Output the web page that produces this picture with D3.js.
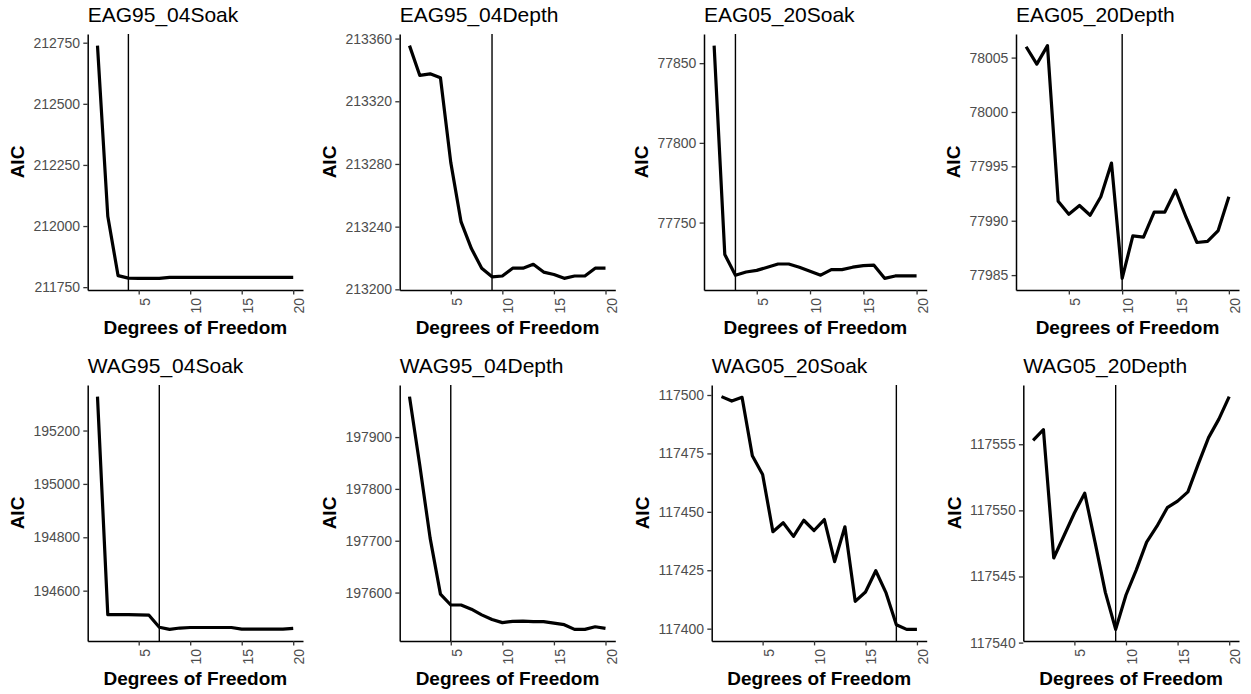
<!DOCTYPE html>
<html>
<head>
<meta charset="utf-8">
<script src="https://cdn.jsdelivr.net/npm/d3@7"></script>
<style>
  body { margin: 0; background: #fff; }
  svg { display: block; }
</style>
</head>
<body>
<svg id="chart" width="1251" height="694"></svg>
<script>
// ---- data -------------------------------------------------------------
const degreesOfFreedom = [1, 2, 3, 4, 5, 6, 7, 8, 9, 10, 11, 12, 13, 14, 15, 16, 17, 18, 19, 20];

const panelTitles = [
  "EAG95_04Soak", "EAG95_04Depth", "EAG05_20Soak", "EAG05_20Depth",
  "WAG95_04Soak", "WAG95_04Depth", "WAG05_20Soak", "WAG05_20Depth"
];

const eag95Soak = [212738, 212040, 211797, 211787, 211786, 211786, 211786, 211790, 211790, 211790,
                   211790, 211790, 211790, 211790, 211790, 211790, 211790, 211790, 211790, 211790];
const eag95Depth = [213355.5, 213336.5, 213337.5, 213335, 213281, 213243, 213226, 213213.5, 213208, 213208.5,
                    213213.5, 213213.5, 213216, 213211, 213209.5, 213207, 213208.5, 213208.5, 213213.5, 213213.5];
const eag05Soak = [77861, 77730, 77717, 77719, 77720, 77722, 77724, 77724, 77722, 77719.5,
                   77717, 77720.5, 77720.5, 77722, 77723, 77723.3, 77715, 77716.5, 77716.5, 77716.5];
const eag05Depth = [78006.0, 78004.4, 78006.1, 77991.8, 77990.6, 77991.4, 77990.5, 77992.2, 77995.3, 77984.7,
                    77988.6, 77988.5, 77990.8, 77990.8, 77992.8, 77990.3, 77988.0, 77988.1, 77989.1, 77992.2];
const wag95Soak = [195327, 194510, 194510, 194510, 194509, 194508, 194463, 194455, 194460, 194462,
                   194462, 194462, 194462, 194462, 194456, 194456, 194456, 194456, 194456, 194459];
const wag95Depth = [197978, 197845, 197705, 197597, 197576, 197576, 197568, 197557, 197548, 197542,
                    197544.5, 197545, 197544, 197544, 197541, 197538, 197529, 197529, 197534, 197531];
const wag05Soak = [117499.3, 117497.4, 117499, 117474, 117466, 117441.5, 117445.3, 117439.5, 117446.4, 117442,
                   117446.7, 117428.7, 117443.6, 117411.7, 117415.7, 117424.8, 117415.3, 117401.7, 117399.7, 117399.7];
const wag05Depth = [117555.3, 117556.1, 117546.4, 117548.1, 117549.8, 117551.3, 117547.6, 117543.8, 117541.0, 117543.6,
                    117545.5, 117547.6, 117548.8, 117550.2, 117550.7, 117551.4, 117553.5, 117555.5, 117556.9, 117558.6];

const aicSeries = [eag95Soak, eag95Depth, eag05Soak, eag05Depth, wag95Soak, wag95Depth, wag05Soak, wag05Depth];

// degrees of freedom chosen for each model (vertical reference line)
const selectedDf = [4, 9, 3, 10, 7, 5, 18, 9];

const xTickValues = [5, 10, 15, 20];
const yTickValues = [
  [211750, 212000, 212250, 212500, 212750],
  [213200, 213240, 213280, 213320, 213360],
  [77750, 77800, 77850],
  [77985, 77990, 77995, 78000, 78005],
  [194600, 194800, 195000, 195200],
  [197600, 197700, 197800, 197900],
  [117400, 117425, 117450, 117475, 117500],
  [117540, 117545, 117550, 117555]
];

const xTitle = "Degrees of Freedom";
const yTitle = "AIC";

// ---- layout -----------------------------------------------------------
const panelFrames = [
  { left: 87.7,   right: 303,    top: 34,  bottom: 290 },
  { left: 399.7,  right: 615.3,  top: 34,  bottom: 290 },
  { left: 704,    right: 926.7,  top: 34,  bottom: 290 },
  { left: 1016,   right: 1239,   top: 34,  bottom: 290 },
  { left: 87.7,   right: 303,    top: 385, bottom: 641 },
  { left: 399.7,  right: 615.3,  top: 385, bottom: 641 },
  { left: 711.7,  right: 926.7,  top: 385, bottom: 641 },
  { left: 1023.3, right: 1239,   top: 385, bottom: 641 }
];

const FONT = "'Liberation Sans', Arial, Helvetica, sans-serif";
const svg = d3.select("#chart");
svg.append("rect").attr("width", 1251).attr("height", 694).attr("fill", "#fff");

// ggplot-style 5% expansion of a continuous range
function expand(ext) {
  const pad = (ext[1] - ext[0]) * 0.05;
  return [ext[0] - pad, ext[1] + pad];
}

panelTitles.forEach((title, i) => {
  const f = panelFrames[i];
  const values = aicSeries[i];
  const rows = degreesOfFreedom.map((df, k) => ({ df, aic: values[k] }));

  const x = d3.scaleLinear()
    .domain(expand(d3.extent(degreesOfFreedom)))
    .range([f.left, f.right]);
  const y = d3.scaleLinear()
    .domain(expand(d3.extent(values)))
    .range([f.bottom, f.top]);

  const g = svg.append("g").attr("class", "panel");

  // data line
  g.append("path")
    .datum(rows)
    .attr("fill", "none")
    .attr("stroke", "#000")
    .attr("stroke-width", 3.2)
    .attr("stroke-linejoin", "round")
    .attr("d", d3.line().x(d => x(d.df)).y(d => y(d.aic)));

  // selected degrees of freedom
  g.append("line")
    .attr("x1", x(selectedDf[i])).attr("x2", x(selectedDf[i]))
    .attr("y1", f.top).attr("y2", f.bottom)
    .attr("stroke", "#000")
    .attr("stroke-width", 1.4);

  // y axis
  const yAxis = g.append("g")
    .attr("transform", `translate(${f.left},0)`)
    .call(d3.axisLeft(y).tickValues(yTickValues[i]).tickFormat(d3.format("d"))
      .tickSize(4.4).tickPadding(3.2).tickSizeOuter(0));

  // x axis
  const xAxis = g.append("g")
    .attr("transform", `translate(0,${f.bottom})`)
    .call(d3.axisBottom(x).tickValues(xTickValues).tickFormat(d3.format("d"))
      .tickSize(4.4).tickSizeOuter(0));
  xAxis.selectAll(".tick text")
    .attr("transform", "rotate(-90)")
    .attr("x", -8)
    .attr("y", 10.5)
    .attr("dy", null)
    .attr("text-anchor", "end");

  [yAxis, xAxis].forEach(ax => {
    ax.select(".domain").attr("stroke", "#000").attr("stroke-width", 1.5);
    ax.selectAll(".tick line").attr("stroke", "#333").attr("stroke-width", 1.3);
    ax.selectAll(".tick text")
      .attr("fill", "#4d4d4d")
      .style("font-family", FONT)
      .style("font-size", "14px");
  });

  // y axis title, placed just left of the widest tick label
  const labelWidth = d3.max(yAxis.selectAll(".tick text").nodes(), n => n.getComputedTextLength());
  const yTitleX = f.left - 4.4 - 3.2 - labelWidth - 9;
  g.append("text")
    .attr("transform", `translate(${yTitleX},${(f.top + f.bottom) / 2}) rotate(-90)`)
    .attr("text-anchor", "middle")
    .style("font-family", FONT)
    .style("font-size", "19px")
    .style("font-weight", "bold")
    .attr("fill", "#000")
    .text(yTitle);

  // x axis title
  g.append("text")
    .attr("x", (f.left + f.right) / 2)
    .attr("y", f.bottom + 44)
    .attr("text-anchor", "middle")
    .style("font-family", FONT)
    .style("font-size", "19px")
    .style("font-weight", "bold")
    .attr("fill", "#000")
    .text(xTitle);

  // panel title
  g.append("text")
    .attr("x", f.left)
    .attr("y", f.top - 12)
    .style("font-family", FONT)
    .style("font-size", "21px")
    .attr("fill", "#000")
    .text(title);
});
</script>
</body>
</html>
